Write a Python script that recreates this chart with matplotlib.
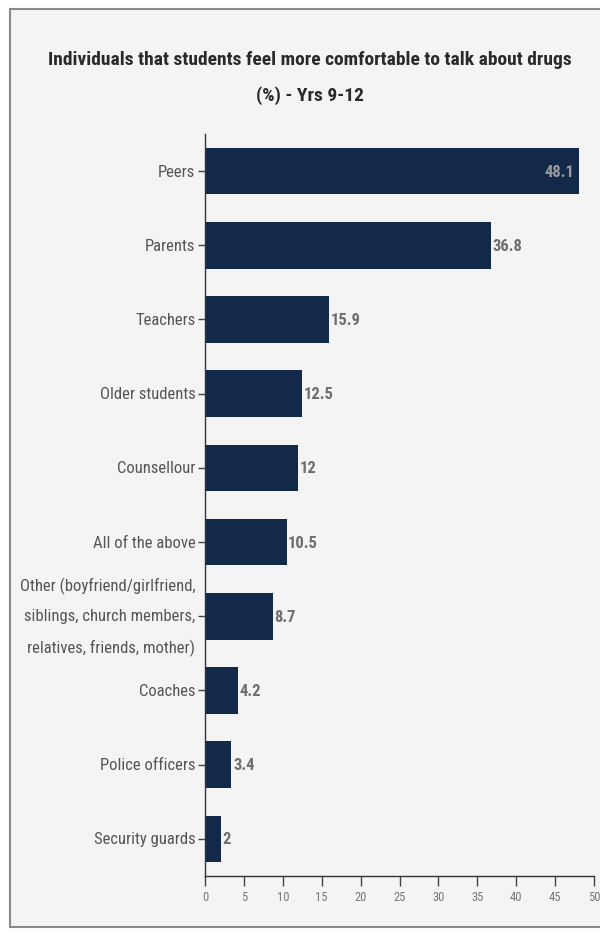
import matplotlib
matplotlib.use("Agg")
import matplotlib.pyplot as plt
from matplotlib import font_manager
from matplotlib.patches import Rectangle

categories = [
    "Peers",
    "Parents",
    "Teachers",
    "Older students",
    "Counsellour",
    "All of the above",
    "Other (boyfriend/girlfriend,\nsiblings, church members,\nrelatives, friends, mother)",
    "Coaches",
    "Police officers",
    "Security guards",
]
values = [48.1, 36.8, 15.9, 12.5, 12, 10.5, 8.7, 4.2, 3.4, 2]
value_labels = ["48.1", "36.8", "15.9", "12.5", "12", "10.5", "8.7", "4.2", "3.4", "2"]
x_ticks = [0, 5, 10, 15, 20, 25, 30, 35, 40, 45, 50]

installed = {f.name for f in font_manager.fontManager.ttflist}
preferred = ["Roboto Condensed", "Archivo Narrow", "PT Sans Narrow",
             "Liberation Sans Narrow", "Open Sans Condensed", "DejaVu Sans"]
families = [f for f in preferred if f in installed] or ["DejaVu Sans"]
plt.rcParams["font.family"] = families

W, H = 600, 937
fig = plt.figure(figsize=(W / 100, H / 100), dpi=100)
fig.patch.set_facecolor("white")

# panel frame behind the chart
fig.patches.append(Rectangle((10 / W, 9 / H), 1.0, 1 - 19 / H, transform=fig.transFigure,
                             facecolor="#f4f4f4", edgecolor="#8a8a8a", linewidth=1.5,
                             zorder=-10))

ax = fig.add_axes([205 / W, 1 - 877 / H, (594 - 205) / W, (877 - 135) / H])
ax.set_facecolor("none")
ax.set_zorder(5)

bar_color = "#12294a"
y = list(range(len(categories)))
ax.barh(y, values, height=0.63, color=bar_color, zorder=2)
ax.set_ylim(len(categories) - 0.5, -0.5)
ax.set_xlim(0, 50)

for i, (v, lab) in enumerate(zip(values, value_labels)):
    if v > 45:
        ax.text(v - 0.6, i, lab, ha="right", va="center", color="#9a9a9a",
                fontsize=12, fontweight="bold")
    else:
        ax.text(v + 0.2, i, lab, ha="left", va="center", color="#6e6e6e",
                fontsize=12, fontweight="bold")

ax.set_yticks(y)
ax.set_yticklabels(categories, fontsize=12, color="#555555", linespacing=2.2)
for lbl in ax.get_yticklabels():
    lbl.set_verticalalignment("center")
ax.set_xticks(x_ticks)
ax.set_xticklabels([str(t) for t in x_ticks], fontsize=9, color="#777777")
ax.tick_params(axis="y", length=5, width=1, color="#444444", pad=2)
ax.tick_params(axis="x", length=7, width=1, color="#444444", pad=3)

for s in ["top", "right"]:
    ax.spines[s].set_visible(False)
for s in ["left", "bottom"]:
    ax.spines[s].set_color("#333333")
    ax.spines[s].set_linewidth(1)

fig.text(310 / W, 1 - 60 / H, "Individuals that students feel more comfortable to talk about drugs",
         ha="center", va="center", fontsize=14, fontweight="bold", color="#2a2a2a")
fig.text(310 / W, 1 - 96 / H, "(%) - Yrs 9-12",
         ha="center", va="center", fontsize=14, fontweight="bold", color="#2a2a2a")

fig.savefig("out.png", dpi=100, facecolor=fig.get_facecolor())
